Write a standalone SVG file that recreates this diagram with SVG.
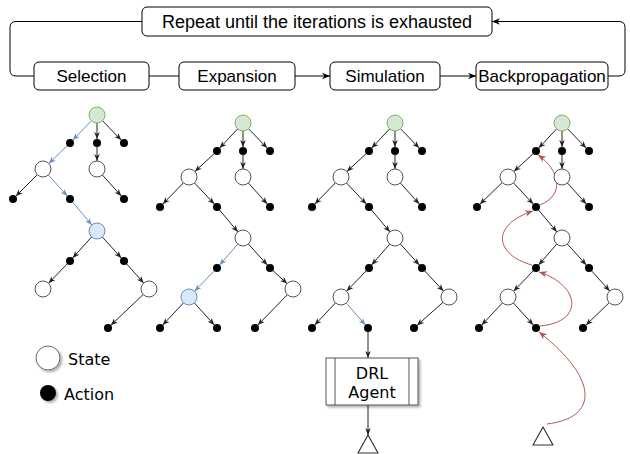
<svg xmlns="http://www.w3.org/2000/svg" width="630" height="454" viewBox="0 0 630 454">
<style>
.box{fill:#fff;stroke:#000;stroke-width:1}
.lbl{font-family:"Liberation Sans",Arial,sans-serif;font-size:17px;fill:#000;text-anchor:middle}
.big{font-size:18px}
.dv{font-family:"DejaVu Sans",Verdana,sans-serif;font-size:16px;fill:#000}
.st{fill:#fff;stroke:#555;stroke-width:1}
.root{fill:#d5e8d4;stroke:#82b366;stroke-width:1}
.sel{fill:#dae8fc;stroke:#6c8ebf;stroke-width:1}
.ac{fill:#000}
.e{stroke:#222;stroke-width:1;fill:none;marker-end:url(#ab)}
.eb{stroke:#6c8ebf;stroke-width:1;fill:none;marker-end:url(#abl)}
.er{stroke:#b85450;stroke-width:1;fill:none;marker-end:url(#ar)}
.flow{stroke:#000;stroke-width:1;fill:none}
.fa{marker-end:url(#abig)}
</style>
<defs>
<marker id="ab" viewBox="0 0 10 10" refX="10" refY="5" markerWidth="7" markerHeight="7" orient="auto" markerUnits="userSpaceOnUse"><path d="M0,1 L10,5 L0,9 L3,5 z" fill="#222"/></marker>
<marker id="abl" viewBox="0 0 10 10" refX="10" refY="5" markerWidth="7" markerHeight="7" orient="auto" markerUnits="userSpaceOnUse"><path d="M0,1 L10,5 L0,9 L3,5 z" fill="#6c8ebf"/></marker>
<marker id="ar" viewBox="0 0 10 10" refX="10" refY="5" markerWidth="8" markerHeight="8" orient="auto" markerUnits="userSpaceOnUse"><path d="M0,1 L10,5 L0,9 L3,5 z" fill="#b85450"/></marker>
<marker id="abig" viewBox="0 0 10 10" refX="10" refY="5" markerWidth="8" markerHeight="8" orient="auto" markerUnits="userSpaceOnUse"><path d="M0,1 L10,5 L0,9 L3,5 z" fill="#000"/></marker>
<filter id="sh" x="-30%" y="-30%" width="160%" height="160%"><feDropShadow dx="2" dy="2" stdDeviation="1" flood-color="#000" flood-opacity="0.3"/></filter>
</defs>

<g id="connectors">
<path class="flow" d="M142,21.5 H16 Q10,21.5 10,27.5 V70 Q10,76 16,76 H34"/>
<path class="flow fa" d="M608,76 H619 Q625,76 625,70 V27.5 Q625,21.5 619,21.5 H492"/>
<path class="flow" d="M149,76 H179"/>
<path class="flow fa" d="M295,76 H330"/>
<path class="flow fa" d="M440,76 H476"/>

<!-- tree 1 -->
<path class="eb" d="M91.4,120.8 L72.8,140.1"/>
<path class="e" d="M97,123 L97,139"/>
<path class="e" d="M102.6,120.8 L121.2,140.1"/>
<path class="eb" d="M67.1,145.8 L48.8,163.5"/>
<path class="e" d="M97,147 L97,161"/>
<path class="e" d="M37.3,174.7 L15.8,196.2"/>
<path class="eb" d="M48.3,174.9 L67.3,196"/>
<path class="e" d="M102.3,174.9 L121.3,196"/>
<path class="eb" d="M72.6,202.1 L91.8,224.9"/>
<path class="e" d="M91.7,236.9 L72.7,258"/>
<path class="e" d="M102.3,236.9 L121.3,258"/>
<path class="e" d="M67.2,263.9 L48.6,283.2"/>
<path class="e" d="M126.7,264 L143.7,283"/>
<path class="e" d="M143.2,294.5 L110.9,325.2"/>

<!-- tree 2 -->
<path class="e" d="M237.6,128.9 L219.7,148.1"/>
<path class="e" d="M243,131 L243,147"/>
<path class="e" d="M248.6,128.8 L267.2,148.1"/>
<path class="e" d="M214.1,153.7 L194.9,171.6"/>
<path class="e" d="M243,155 L243,169"/>
<path class="e" d="M183.4,182.8 L162.8,204.1"/>
<path class="e" d="M194.5,182.9 L214.3,204.1"/>
<path class="e" d="M248.3,182.9 L267.3,204"/>
<path class="e" d="M219.6,210.1 L237.9,231.9"/>
<path class="eb" d="M237.8,244 L219.6,265"/>
<path class="e" d="M248.3,243.9 L267.3,265"/>
<path class="eb" d="M214.2,270.9 L194.6,291.2"/>
<path class="e" d="M273,270.7 L287.1,283.6"/>
<path class="e" d="M183.5,302.8 L162.7,325.1"/>
<path class="e" d="M194.4,302.9 L214.3,325"/>
<path class="e" d="M287.4,294.7 L257.8,325.1"/>

<!-- tree 3 -->
<path class="e" d="M389.6,128.9 L371.7,148.1"/>
<path class="e" d="M395,131 L395,147"/>
<path class="e" d="M400.6,128.8 L419.2,148.1"/>
<path class="e" d="M366.1,153.7 L346.9,171.6"/>
<path class="e" d="M395,155 L395,169"/>
<path class="e" d="M335.4,182.8 L314.8,204.1"/>
<path class="e" d="M346.5,182.9 L366.3,204.1"/>
<path class="e" d="M400.3,182.9 L419.3,204"/>
<path class="e" d="M371.6,210.1 L389.9,231.9"/>
<path class="e" d="M389.8,244 L371.6,265"/>
<path class="e" d="M400.3,243.9 L419.3,265"/>
<path class="e" d="M366.2,270.9 L346.6,291.2"/>
<path class="e" d="M424.7,270.9 L443.5,291.1"/>
<path class="e" d="M335.5,302.8 L314.7,325.1"/>
<path class="eb" d="M346.3,303 L365.4,325"/>
<path class="e" d="M443,302.3 L417,325.4"/>
<path class="e" d="M368,332 L368,358"/>
<path class="e" d="M368,405 L368,435"/>

<!-- tree 4 -->
<path class="e" d="M556.6,128.9 L538.7,148.1"/>
<path class="e" d="M562,131 L562,147"/>
<path class="e" d="M567.6,128.8 L586.2,148.1"/>
<path class="e" d="M533.1,153.7 L513.9,171.6"/>
<path class="e" d="M562,155 L562,169"/>
<path class="e" d="M502.2,182.6 L479.9,204.2"/>
<path class="e" d="M513.5,182.9 L533.3,204.1"/>
<path class="e" d="M567.3,182.9 L586.3,204"/>
<path class="e" d="M538.6,210.1 L556.9,231.9"/>
<path class="e" d="M556.8,244 L538.6,265"/>
<path class="e" d="M567.3,243.9 L586.3,265"/>
<path class="e" d="M533.2,270.9 L513.6,291.2"/>
<path class="e" d="M591.7,271 L609.7,291"/>
<path class="e" d="M502.5,302.8 L481.7,325.1"/>
<path class="e" d="M513.4,302.9 L533.3,325"/>
<path class="e" d="M609.3,302.6 L585.9,325.2"/>

<path class="er" d="M547,424 C598,418 600,380 539,332"/>
<path class="er" d="M540,326 C585,322 580,285 539,272"/>
<path class="er" d="M532,265 C495,255 490,225 533,211"/>
<path class="er" d="M540,205 C565,195 560,170 538,155"/>
</g>

<g id="repeat"><rect class="box" x="142" y="7" width="350" height="29" rx="5"/><text class="lbl big" x="317" y="28">Repeat until the iterations is exhausted</text></g>
<g id="selection"><rect class="box" x="34" y="62" width="115" height="28" rx="5"/><text class="lbl" x="91.5" y="82">Selection</text></g>
<g id="expansion"><rect class="box" x="179" y="62" width="116" height="28" rx="5"/><text class="lbl" x="237" y="82">Expansion</text></g>
<g id="simulation"><rect class="box" x="330" y="62" width="110" height="28" rx="5"/><text class="lbl" x="385" y="82">Simulation</text></g>
<g id="backpropagation"><rect class="box" x="476" y="62" width="132" height="28" rx="5"/><text class="lbl" x="542" y="82">Backpropagation</text></g>

<!-- tree 1 nodes -->
<g id="t1-r"><circle class="root" cx="97" cy="115" r="8"/></g>
<g id="t1-a1"><circle class="ac" cx="70" cy="143" r="4"/></g>
<g id="t1-a2"><circle class="ac" cx="97" cy="143" r="4"/></g>
<g id="t1-a3"><circle class="ac" cx="124" cy="143" r="4"/></g>
<g id="t1-s1"><circle class="st" cx="43" cy="169" r="8"/></g>
<g id="t1-s2"><circle class="st" cx="97" cy="169" r="8"/></g>
<g id="t1-b1"><circle class="ac" cx="13" cy="199" r="4"/></g>
<g id="t1-b2"><circle class="ac" cx="70" cy="199" r="4"/></g>
<g id="t1-b3"><circle class="ac" cx="124" cy="199" r="4"/></g>
<g id="t1-s3"><circle class="sel" cx="97" cy="231" r="8"/></g>
<g id="t1-c1"><circle class="ac" cx="70" cy="261" r="4"/></g>
<g id="t1-c2"><circle class="ac" cx="124" cy="261" r="4"/></g>
<g id="t1-s4"><circle class="st" cx="43" cy="289" r="8"/></g>
<g id="t1-s5"><circle class="st" cx="149" cy="289" r="8"/></g>
<g id="t1-d1"><circle class="ac" cx="108" cy="328" r="4"/></g>

<!-- tree 2 nodes -->
<g id="t2-r"><circle class="root" cx="243" cy="123" r="8"/></g>
<g id="t2-a1"><circle class="ac" cx="217" cy="151" r="4"/></g>
<g id="t2-a2"><circle class="ac" cx="243" cy="151" r="4"/></g>
<g id="t2-a3"><circle class="ac" cx="270" cy="151" r="4"/></g>
<g id="t2-s1"><circle class="st" cx="189" cy="177" r="8"/></g>
<g id="t2-s2"><circle class="st" cx="243" cy="177" r="8"/></g>
<g id="t2-b1"><circle class="ac" cx="160" cy="207" r="4"/></g>
<g id="t2-b2"><circle class="ac" cx="217" cy="207" r="4"/></g>
<g id="t2-b3"><circle class="ac" cx="270" cy="207" r="4"/></g>
<g id="t2-s3"><circle class="st" cx="243" cy="238" r="8"/></g>
<g id="t2-c1"><circle class="ac" cx="217" cy="268" r="4"/></g>
<g id="t2-c2"><circle class="ac" cx="270" cy="268" r="4"/></g>
<g id="t2-s4"><circle class="sel" cx="189" cy="297" r="8"/></g>
<g id="t2-s5"><circle class="st" cx="293" cy="289" r="8"/></g>
<g id="t2-d1"><circle class="ac" cx="160" cy="328" r="4"/></g>
<g id="t2-d2"><circle class="ac" cx="217" cy="328" r="4"/></g>
<g id="t2-d3"><circle class="ac" cx="255" cy="328" r="4"/></g>

<!-- tree 3 nodes -->
<g id="t3-r"><circle class="root" cx="395" cy="123" r="8"/></g>
<g id="t3-a1"><circle class="ac" cx="369" cy="151" r="4"/></g>
<g id="t3-a2"><circle class="ac" cx="395" cy="151" r="4"/></g>
<g id="t3-a3"><circle class="ac" cx="422" cy="151" r="4"/></g>
<g id="t3-s1"><circle class="st" cx="341" cy="177" r="8"/></g>
<g id="t3-s2"><circle class="st" cx="395" cy="177" r="8"/></g>
<g id="t3-b1"><circle class="ac" cx="312" cy="207" r="4"/></g>
<g id="t3-b2"><circle class="ac" cx="369" cy="207" r="4"/></g>
<g id="t3-b3"><circle class="ac" cx="422" cy="207" r="4"/></g>
<g id="t3-s3"><circle class="st" cx="395" cy="238" r="8"/></g>
<g id="t3-c1"><circle class="ac" cx="369" cy="268" r="4"/></g>
<g id="t3-c2"><circle class="ac" cx="422" cy="268" r="4"/></g>
<g id="t3-s4"><circle class="st" cx="341" cy="297" r="8"/></g>
<g id="t3-s5"><circle class="st" cx="449" cy="297" r="8"/></g>
<g id="t3-d1"><circle class="ac" cx="312" cy="328" r="4"/></g>
<g id="t3-d2"><circle class="ac" cx="368" cy="328" r="4"/></g>
<g id="t3-d3"><circle class="ac" cx="414" cy="328" r="4"/></g>
<g id="drl-agent">
<rect x="326" y="358" width="92" height="47" fill="#fff" stroke="#555" filter="url(#sh)"/>
<line x1="335" y1="358" x2="335" y2="405" stroke="#555"/>
<line x1="409" y1="358" x2="409" y2="405" stroke="#555"/>
<text class="dv" x="372" y="379" text-anchor="middle">DRL</text>
<text class="dv" x="372" y="398" text-anchor="middle">Agent</text>
</g>
<g id="t3-terminal"><path d="M368,435 L378,453 L358,453 Z" fill="#fff" stroke="#333" stroke-linejoin="round" stroke-width="1.2"/></g>

<!-- tree 4 nodes -->
<g id="t4-r"><circle class="root" cx="562" cy="123" r="8"/></g>
<g id="t4-a1"><circle class="ac" cx="536" cy="151" r="4"/></g>
<g id="t4-a2"><circle class="ac" cx="562" cy="151" r="4"/></g>
<g id="t4-a3"><circle class="ac" cx="589" cy="151" r="4"/></g>
<g id="t4-s1"><circle class="st" cx="508" cy="177" r="8"/></g>
<g id="t4-s2"><circle class="st" cx="562" cy="177" r="8"/></g>
<g id="t4-b1"><circle class="ac" cx="477" cy="207" r="4"/></g>
<g id="t4-b2"><circle class="ac" cx="536" cy="207" r="4"/></g>
<g id="t4-b3"><circle class="ac" cx="589" cy="207" r="4"/></g>
<g id="t4-s3"><circle class="st" cx="562" cy="238" r="8"/></g>
<g id="t4-c1"><circle class="ac" cx="536" cy="268" r="4"/></g>
<g id="t4-c2"><circle class="ac" cx="589" cy="268" r="4"/></g>
<g id="t4-s4"><circle class="st" cx="508" cy="297" r="8"/></g>
<g id="t4-s5"><circle class="st" cx="615" cy="297" r="8"/></g>
<g id="t4-d1"><circle class="ac" cx="479" cy="328" r="4"/></g>
<g id="t4-d2"><circle class="ac" cx="536" cy="328" r="4"/></g>
<g id="t4-d3"><circle class="ac" cx="583" cy="328" r="4"/></g>
<g id="t4-terminal"><path d="M543,427 L553,445 L533,445 Z" fill="#fff" stroke="#333" stroke-linejoin="round" stroke-width="1.2"/></g>

<!-- legend -->
<g id="legend-state"><circle cx="48" cy="358" r="12" fill="#fff" stroke="#666" filter="url(#sh)"/><text class="dv" x="68" y="365">State</text></g>
<g id="legend-action"><circle cx="48" cy="393" r="8" fill="#000" filter="url(#sh)"/><text class="dv" x="64" y="400">Action</text></g>
</svg>
